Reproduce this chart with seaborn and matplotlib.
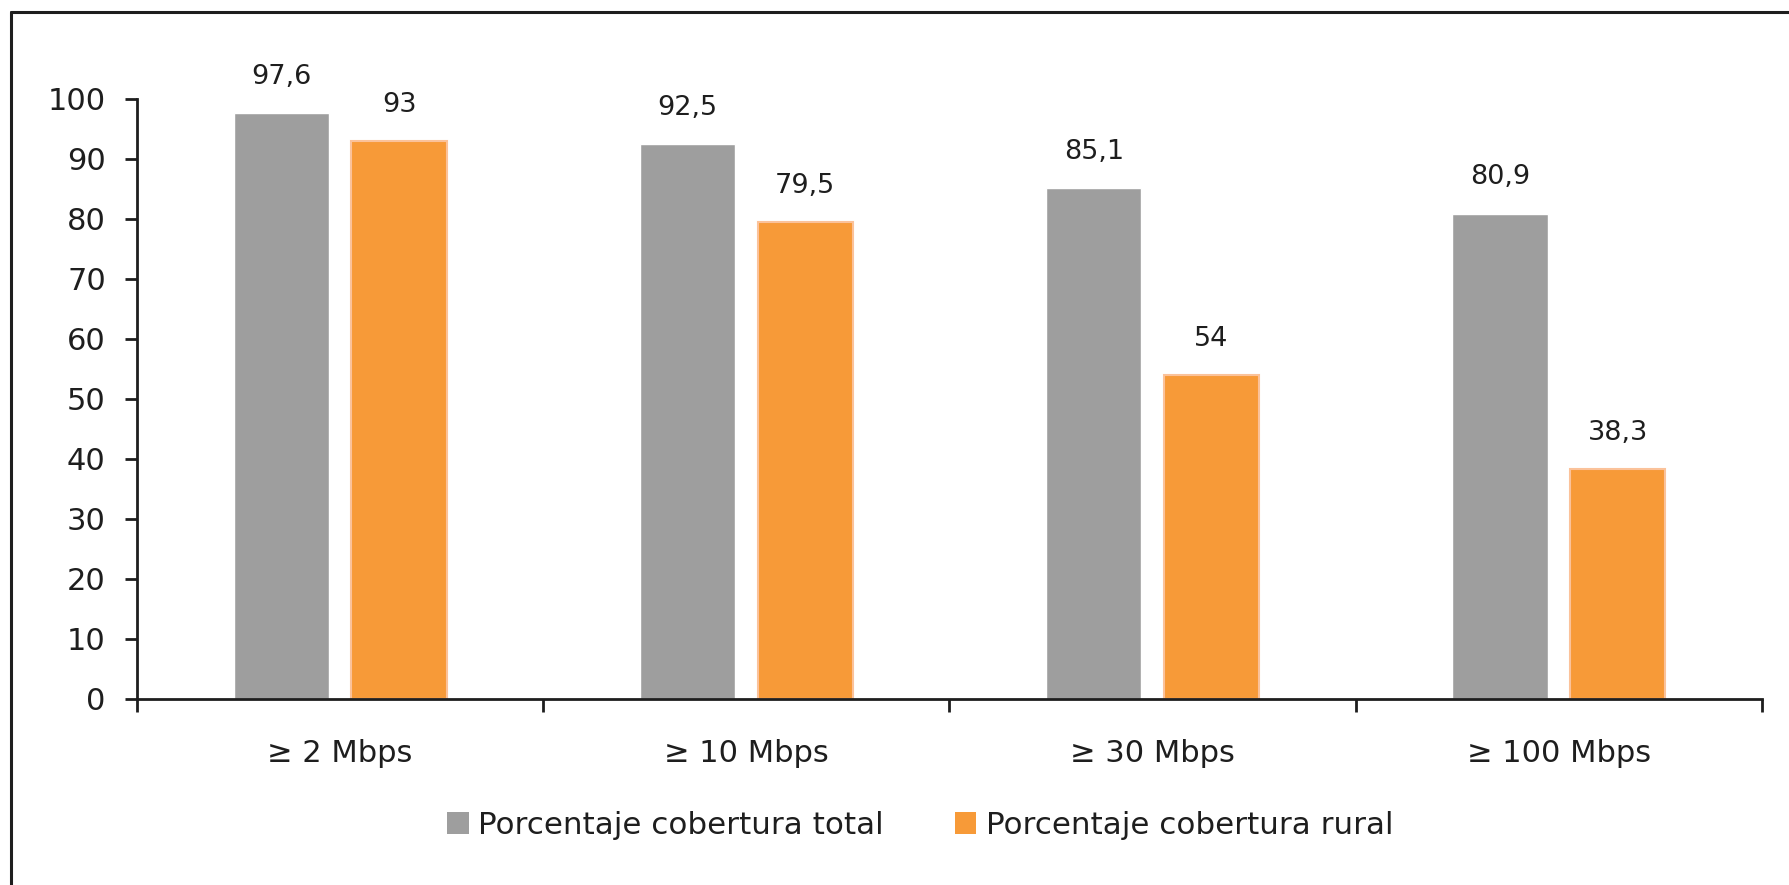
import matplotlib
matplotlib.use("Agg")
import matplotlib.pyplot as plt
from matplotlib.lines import Line2D
from matplotlib.patches import Patch
import seaborn as sns
import pandas as pd

categories = ["≥ 2 Mbps", "≥ 10 Mbps", "≥ 30 Mbps", "≥ 100 Mbps"]
series_names = ["Porcentaje cobertura total", "Porcentaje cobertura rural"]
total_values = [97.6, 92.5, 85.1, 80.9]
rural_values = [93, 79.5, 54, 38.3]
total_labels = ["97,6", "92,5", "85,1", "80,9"]
rural_labels = ["93", "79,5", "54", "38,3"]
y_ticks = [0, 10, 20, 30, 40, 50, 60, 70, 80, 90, 100]

GRAY = "#9E9E9E"
ORANGE = "#F79A38"
TXT = "#1e1e1e"
LINE = "#1e1e1e"

df = pd.DataFrame({
    "cat": categories * 2,
    "serie": [series_names[0]] * 4 + [series_names[1]] * 4,
    "val": total_values + rural_values,
})

sns.set_theme(style="white")
plt.rcParams["font.family"] = ["DejaVu Sans"]

W, H = 1790, 885
fig = plt.figure(figsize=(W / 100, H / 100), dpi=100)
ax = fig.add_axes([137 / W, 1 - 699 / H, (1762 - 137) / W, (699 - 99) / H])

sns.barplot(data=df, x="cat", y="val", hue="serie", order=categories,
            hue_order=series_names, palette=[GRAY, ORANGE], width=0.58, gap=0.19,
            saturation=1, legend=False, ax=ax)

# light edge on orange bars
for p in ax.patches:
    if abs(p.get_facecolor()[0] - 0.969) < 0.02:
        p.set_edgecolor("#FBC29A")
        p.set_linewidth(1.5)

# value labels
all_labels = [total_labels, rural_labels]
for ci, cont in enumerate(ax.containers):
    for bar, lab in zip(cont, all_labels[ci]):
        ax.annotate(lab, (bar.get_x() + bar.get_width() / 2, bar.get_height()),
                    xytext=(0, 26), textcoords="offset points", ha="center", va="center",
                    fontsize=19.5, color=TXT, annotation_clip=False)

ax.set_ylim(0, 100)
ax.set_xlim(-0.5, 3.5)
ax.set_yticks(y_ticks)
ax.set_xlabel("")
ax.set_ylabel("")
for s in ["top", "right"]:
    ax.spines[s].set_visible(False)
for s in ["left", "bottom"]:
    ax.spines[s].set_color(LINE)
    ax.spines[s].set_linewidth(2)

ax.tick_params(axis="y", which="major", length=9, width=2, color=LINE, direction="out",
               labelsize=22, labelcolor=TXT, pad=13.5, left=True)
ax.tick_params(axis="x", which="major", length=0, labelsize=22, labelcolor=TXT, pad=28.5)
ax.set_xticks([-0.5, 0.5, 1.5, 2.5, 3.5], minor=True)
ax.tick_params(axis="x", which="minor", length=9, width=2, color=LINE, direction="out", bottom=True)

handles = [Patch(facecolor=GRAY, edgecolor="none"), Patch(facecolor=ORANGE, edgecolor="none")]
fig.legend(handles, series_names, loc="center", bbox_to_anchor=(920 / W, 1 - 825 / H),
           ncol=2, frameon=False, fontsize=22.3, handlelength=0.7, handleheight=0.7,
           handletextpad=0.3, columnspacing=2.3, labelcolor=TXT)

# outer frame (left and top visible only)
fig.add_artist(Line2D([11.5 / W, 11.5 / W], [0, 1 - 11.5 / H], color=LINE, lw=2.2,
                      transform=fig.transFigure))
fig.add_artist(Line2D([11.5 / W, 1.0], [1 - 11.5 / H, 1 - 11.5 / H], color=LINE, lw=2.2,
                      transform=fig.transFigure))

fig.savefig("out.png", dpi=100)
